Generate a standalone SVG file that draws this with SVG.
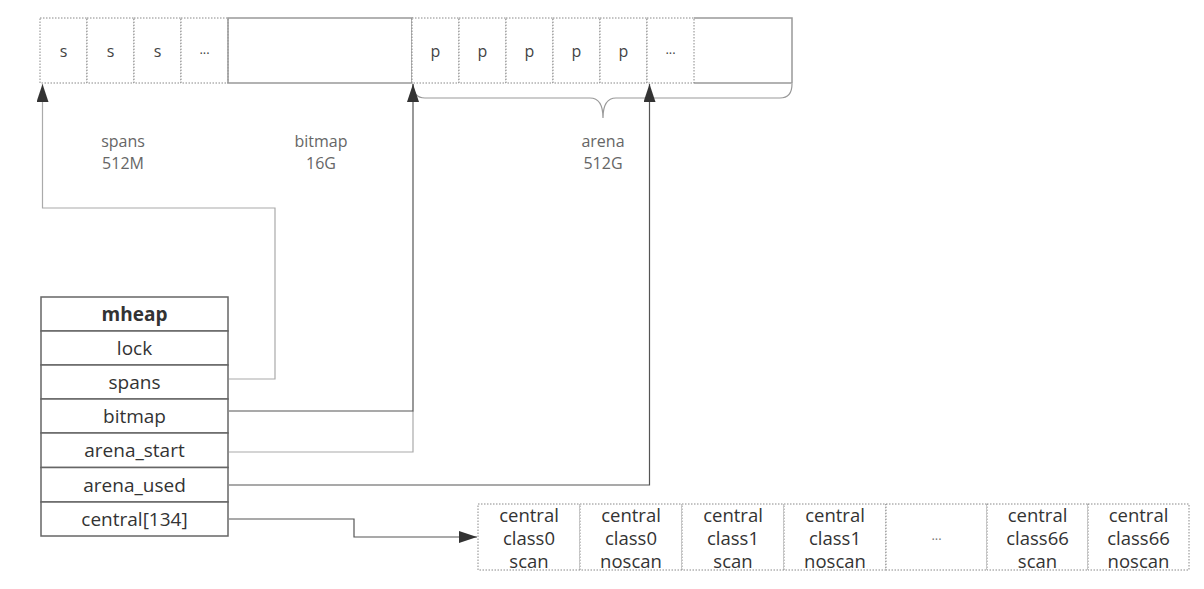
<svg xmlns="http://www.w3.org/2000/svg" width="1204" height="589" viewBox="0 0 1204 589">
<style>
  text { font-family: "Open Sans", "Noto Sans", "DejaVu Sans", sans-serif; fill: #444; text-anchor: middle; dominant-baseline: central; }
  .dot { fill: #fff; stroke: #888; stroke-width: 1; stroke-dasharray: 1.5 1.5; }
  .solid { fill: none; stroke: #999; stroke-width: 1.5; }
  .cell { font-size: 16px; }
  .lbl { font-size: 16px; fill: #666; }
  .row { fill: #fff; stroke: #666; stroke-width: 1.5; }
  .rt { font-size: 19px; fill: #333; }
  .ct { font-size: 18.5px; fill: #333; }
  .light { fill: none; stroke: #aaa; stroke-width: 1.2; }
  .dark { fill: none; stroke: #555; stroke-width: 1.2; }
  .brace { fill: none; stroke: #999; stroke-width: 1.2; }
</style>
<defs>
  <marker id="arr" markerUnits="userSpaceOnUse" markerWidth="18" markerHeight="12" viewBox="0 0 18 12" refX="18" refY="6" orient="auto">
    <path d="M0,0 L18,6 L0,12 Z" fill="#333"/>
  </marker>
</defs>

<g id="top-bar">
  <g id="spans-region">
    <rect class="dot" x="40" y="18" width="47" height="65"/>
    <rect class="dot" x="87" y="18" width="47" height="65"/>
    <rect class="dot" x="134" y="18" width="47" height="65"/>
    <rect class="dot" x="181" y="18" width="47" height="65"/>
    <text class="cell" x="63.5" y="51">s</text>
    <text class="cell" x="110.5" y="51">s</text>
    <text class="cell" x="157.5" y="51">s</text>
    <text class="cell" x="204.5" y="49" style="font-size:13px">...</text>
  </g>
  <g id="bitmap-region">
    <rect class="solid" x="228" y="18" width="184" height="65"/>
  </g>
  <g id="arena-region">
    <path class="solid" d="M694,18 H792 V83 H694"/>
    <rect class="dot" x="412" y="18" width="47" height="65"/>
    <rect class="dot" x="459" y="18" width="47" height="65"/>
    <rect class="dot" x="506" y="18" width="47" height="65"/>
    <rect class="dot" x="553" y="18" width="47" height="65"/>
    <rect class="dot" x="600" y="18" width="47" height="65"/>
    <rect class="dot" x="647" y="18" width="47" height="65"/>
    <text class="cell" x="435.5" y="51">p</text>
    <text class="cell" x="482.5" y="51">p</text>
    <text class="cell" x="529.5" y="51">p</text>
    <text class="cell" x="576.5" y="51">p</text>
    <text class="cell" x="623.5" y="51">p</text>
    <text class="cell" x="670.5" y="49" style="font-size:13px">...</text>
  </g>
  <path id="arena-brace" class="brace" d="M413,84 Q413,98 425,98 H590 Q603,98 603,118 Q603,98 616,98 H780 Q792,98 792,84"/>
</g>

<g id="labels">
  <text class="lbl" x="123" y="141">spans</text>
  <text class="lbl" x="123" y="163">512M</text>
  <text class="lbl" x="321" y="141">bitmap</text>
  <text class="lbl" x="321" y="163">16G</text>
  <text class="lbl" x="603" y="141">arena</text>
  <text class="lbl" x="603" y="163">512G</text>
</g>

<g id="mheap">
  <rect class="row" x="41" y="297" width="187" height="34"/>
  <rect class="row" x="41" y="331" width="187" height="34"/>
  <rect class="row" x="41" y="365" width="187" height="34"/>
  <rect class="row" x="41" y="399" width="187" height="34"/>
  <rect class="row" x="41" y="433" width="187" height="34.5"/>
  <rect class="row" x="41" y="467.5" width="187" height="34.5"/>
  <rect class="row" x="41" y="502" width="187" height="34"/>
  <text class="rt" x="134.5" y="314" font-weight="bold">mheap</text>
  <text class="rt" x="134.5" y="348">lock</text>
  <text class="rt" x="134.5" y="382">spans</text>
  <text class="rt" x="134.5" y="416">bitmap</text>
  <text class="rt" x="134.5" y="450">arena_start</text>
  <text class="rt" x="134.5" y="485">arena_used</text>
  <text class="rt" x="134.5" y="519">central[134]</text>
</g>

<g id="central-array">
  <rect class="dot" x="478" y="504" width="102" height="66"/>
  <rect class="dot" x="580" y="504" width="102" height="66"/>
  <rect class="dot" x="682" y="504" width="102" height="66"/>
  <rect class="dot" x="784" y="504" width="102" height="66"/>
  <rect class="dot" x="886" y="504" width="101" height="66"/>
  <rect class="dot" x="987" y="504" width="101" height="66"/>
  <rect class="dot" x="1088" y="504" width="101" height="66"/>
  <text class="ct" x="529" y="514">central</text>
  <text class="ct" x="529" y="537">class0</text>
  <text class="ct" x="529" y="560">scan</text>
  <text class="ct" x="631" y="514">central</text>
  <text class="ct" x="631" y="537">class0</text>
  <text class="ct" x="631" y="560">noscan</text>
  <text class="ct" x="733" y="514">central</text>
  <text class="ct" x="733" y="537">class1</text>
  <text class="ct" x="733" y="560">scan</text>
  <text class="ct" x="835" y="514">central</text>
  <text class="ct" x="835" y="537">class1</text>
  <text class="ct" x="835" y="560">noscan</text>
  <text x="936.5" y="535" style="font-size:13px; fill:#777">...</text>
  <text class="ct" x="1037.5" y="514">central</text>
  <text class="ct" x="1037.5" y="537">class66</text>
  <text class="ct" x="1037.5" y="560">scan</text>
  <text class="ct" x="1138.5" y="514">central</text>
  <text class="ct" x="1138.5" y="537">class66</text>
  <text class="ct" x="1138.5" y="560">noscan</text>
</g>

<g id="connectors">
  <path class="light" d="M229,379 H275 V208 H42.5 V84" marker-end="url(#arr)"/>
  <path class="light" d="M229,452 H413 V411"/>
  <path class="dark" d="M229,411 H413 V84" marker-end="url(#arr)"/>
  <path class="dark" d="M229,485 H649.5 V84" marker-end="url(#arr)"/>
  <path class="dark" d="M229,519 H354 V537 H477" marker-end="url(#arr)"/>
</g>
</svg>
